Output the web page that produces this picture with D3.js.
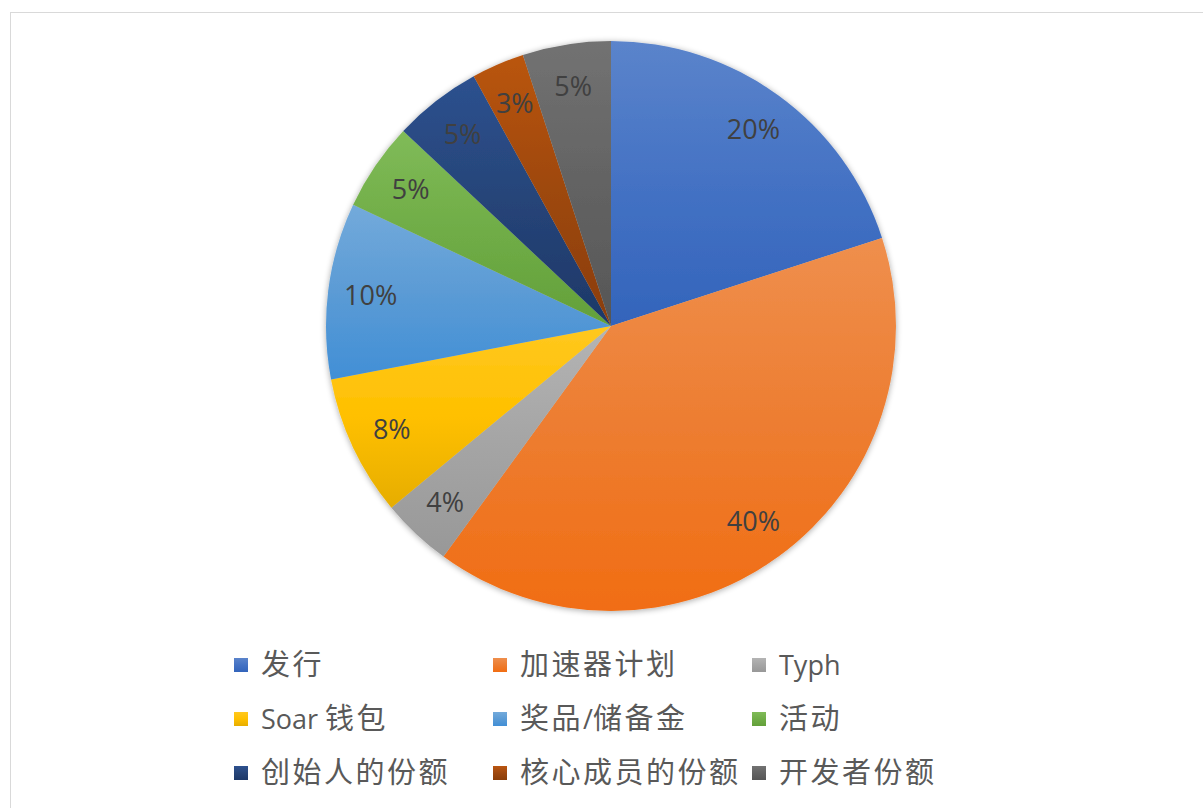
<!DOCTYPE html>
<html>
<head>
<meta charset="utf-8">
<script src="https://cdn.jsdelivr.net/npm/d3@7"></script>
<style>
  body { margin: 0; background: #fff; }
  svg { display: block; }
</style>
</head>
<body>
<div id="chart"></div>
<script>
// data
const categories = ['发行', '加速器计划', 'Typh', 'Soar 钱包', '奖品/储备金', '活动', '创始人的份额', '核心成员的份额', '开发者份额'];
const shares = [20, 40, 4, 8, 10, 5, 5, 3, 5];
const baseColors = ['#4472C4', '#ED7D31', '#A5A5A5', '#FFC000', '#5B9BD5', '#70AD47', '#264478', '#9E480E', '#636363'];

const width = 1203, height = 808;
const cx = 611, cy = 326, radius = 285;

const svg = d3.select('#chart').append('svg')
    .attr('width', width)
    .attr('height', height);

// chart border
svg.append('rect')
    .attr('x', 10.5).attr('y', 12.5)
    .attr('width', 1200).attr('height', 800)
    .attr('fill', '#fff')
    .attr('stroke', '#d9d9d9')
    .attr('stroke-width', 1);

const defs = svg.append('defs');

const shadow = defs.append('filter').attr('id', 'shadow')
    .attr('x', '-10%').attr('y', '-10%').attr('width', '120%').attr('height', '120%');
shadow.append('feGaussianBlur').attr('in', 'SourceAlpha').attr('stdDeviation', 3);
shadow.append('feOffset').attr('dx', 0).attr('dy', 1).attr('result', 'blur');
shadow.append('feComponentTransfer').append('feFuncA').attr('type', 'linear').attr('slope', 0.35);
const merge = shadow.append('feMerge');
merge.append('feMergeNode');
merge.append('feMergeNode').attr('in', 'SourceGraphic');

// vertical gradient per colour, lighter at top, deeper at bottom
function tone(c, dl, ds) {
    const h = d3.hsl(c);
    h.l = Math.max(0, Math.min(1, h.l + dl));
    if (h.s > 0) h.s = Math.min(1, h.s + ds);
    return h.formatHex();
}
baseColors.forEach((c, i) => {
    const g = defs.append('linearGradient')
        .attr('id', 'grad' + i)
        .attr('x1', 0).attr('y1', 0).attr('x2', 0).attr('y2', 1);
    g.append('stop').attr('offset', '0%').attr('stop-color', tone(c, 0.06, 0));
    g.append('stop').attr('offset', '50%').attr('stop-color', c);
    g.append('stop').attr('offset', '100%').attr('stop-color', tone(c, -0.05, 0.05));
});

const pie = d3.pie().sort(null).value(d => d);
const arcs = pie(shares);

const arc = d3.arc().innerRadius(0).outerRadius(radius);
const labelArc = d3.arc().innerRadius(radius * 0.85).outerRadius(radius * 0.85);

const chart = svg.append('g')
    .attr('transform', `translate(${cx},${cy})`);

chart.append('g')
    .attr('filter', 'url(#shadow)')
    .selectAll('path')
    .data(arcs)
    .enter()
    .append('path')
    .attr('d', arc)
    .attr('fill', (d, i) => `url(#grad${i})`);

chart.selectAll('.label')
    .data(arcs)
    .enter()
    .append('text')
    .attr('class', 'label')
    .attr('transform', d => `translate(${labelArc.centroid(d)})`)
    .attr('text-anchor', 'middle')
    .attr('dy', '0.35em')
    .style('font-family', '"Open Sans", "Noto Sans", sans-serif')
    .style('font-size', '27px')
    .style('fill', '#404040')
    .text(d => d.data + '%');

// legend, 3 columns
const colX = [234, 493, 752];
const rowY = [665, 719, 773];

const legend = svg.append('g').attr('class', 'legend');
const items = legend.selectAll('g')
    .data(categories)
    .enter()
    .append('g')
    .attr('transform', (d, i) => `translate(${colX[i % 3]},${rowY[Math.floor(i / 3)]})`);

items.append('rect')
    .attr('x', 0).attr('y', -7)
    .attr('width', 14).attr('height', 14)
    .attr('fill', (d, i) => `url(#grad${i})`);

// split labels into latin / CJK runs so the CJK glyphs get their wider setting
const cjk = /[\u3000-\u9fff]/;
function runs(s) {
    const out = [];
    for (const ch of s) {
        const isC = cjk.test(ch);
        if (out.length && out[out.length - 1].c === isC) out[out.length - 1].t += ch;
        else out.push({t: ch, c: isC});
    }
    return out;
}

const texts = items.append('text')
    .attr('x', 27)
    .attr('dy', '0.36em')
    .style('font-family', '"Open Sans", "Noto Sans CJK SC", sans-serif')
    .style('font-size', '27px')
    .style('fill', '#595959');

texts.selectAll('tspan')
    .data(d => runs(d))
    .enter()
    .append('tspan')
    .style('font-family', r => r.c ? '"Noto Sans CJK SC", sans-serif' : '"Open Sans", sans-serif')
    .style('font-size', r => r.c ? '29px' : '27px')
    .style('letter-spacing', r => r.c ? '2.5px' : '0px')
    .text(r => r.t);
</script>
</body>
</html>
